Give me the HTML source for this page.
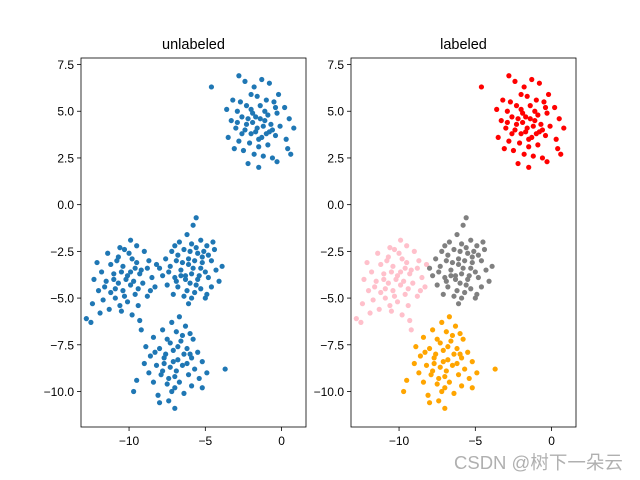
<!DOCTYPE html>
<html><head><meta charset="utf-8"><style>
body{margin:0;background:#fff;}
svg{display:block;font-family:"Liberation Sans","DejaVu Sans",sans-serif;}
</style></head><body>
<svg id="chart" width="640" height="480" viewBox="0 0 640 480">
<text x="454" y="469" font-size="18.5" fill="#b0b0b0" font-family="Liberation Sans, Noto Sans CJK SC, sans-serif">CSDN @树下一朵云</text>
</svg>
<script>
const clusterRed = [[-4.6,6.3],[-2.8,6.9],[-2.4,6.6],[-1.3,6.7],[-0.8,6.5],[-3.2,5.6],[-2.0,5.9],[-1.6,5.8],[-0.5,5.5],[0.2,5.2],[-3.6,5.1],[-2.9,5.0],[-2.3,5.3],[-1.1,5.0],[-0.3,4.9],[0.5,4.6],[-3.3,4.5],[-2.6,4.7],[-1.9,4.4],[-1.4,4.6],[-0.7,4.3],[-0.1,4.2],[0.8,4.1],[-3.0,4.1],[-2.4,4.0],[-1.7,3.9],[-1.0,3.8],[-0.4,3.7],[0.3,3.5],[-3.5,3.6],[-2.8,3.4],[-2.1,3.3],[-1.5,3.5],[-0.9,3.2],[0.4,3.0],[-2.5,2.9],[-1.8,2.7],[-1.2,2.6],[-0.6,2.5],[0.6,2.7],[-2.2,2.2],[-1.5,2.0],[-0.3,2.3],[-3.1,3.0],[-1.9,4.9],[-1.2,4.2],[-2.6,3.8],[-0.2,5.9],[-1.8,6.3],[-2.9,4.4],[-1.6,4.1],[-2.2,4.6],[-0.9,4.8],[-1.3,3.6],[-2.0,3.8],[-0.6,4.0],[-1.4,5.3],[-2.7,5.5],[-0.4,5.2],[-1.1,4.5],[-1.7,4.7],[-2.3,4.3],[-0.8,3.9],[-1.5,3.1],[-2.0,5.1],[-1.0,5.6]];
const clusterGrey = [[-5.6,-0.7],[-5.8,-1.1],[-6.2,-1.6],[-5.3,-1.9],[-6.7,-2.0],[-5.9,-2.1],[-4.9,-2.2],[-4.4,-2.4],[-7.2,-2.5],[-6.4,-2.4],[-5.5,-2.6],[-4.8,-2.7],[-7.6,-2.9],[-6.9,-3.0],[-6.1,-2.9],[-5.2,-3.1],[-4.6,-3.0],[-3.9,-3.3],[-8.0,-3.4],[-7.3,-3.3],[-6.6,-3.5],[-5.8,-3.4],[-5.0,-3.6],[-4.3,-3.5],[-7.8,-3.8],[-7.0,-3.9],[-6.3,-3.8],[-5.5,-4.0],[-4.8,-3.9],[-4.1,-4.1],[-7.5,-4.3],[-6.8,-4.4],[-6.0,-4.2],[-5.3,-4.5],[-4.6,-4.4],[-7.1,-4.8],[-6.4,-4.9],[-5.7,-4.7],[-5.0,-5.0],[-6.1,-5.3],[-6.8,-2.7],[-5.4,-3.8],[-6.5,-3.1],[-4.9,-4.8],[-7.4,-3.6],[-6.2,-4.6],[-5.6,-2.3],[-4.5,-2.0],[-7.0,-2.2],[-5.9,-5.0],[-6.0,-2.5],[-5.7,-3.0],[-6.3,-4.0],[-5.1,-2.5],[-6.6,-3.8],[-5.9,-3.7],[-6.1,-3.2],[-5.3,-3.4],[-5.6,-4.3],[-6.9,-4.1],[-5.2,-2.8]];
const clusterPink = [[-9.9,-1.9],[-9.5,-2.2],[-10.3,-2.4],[-9.0,-2.5],[-11.4,-2.6],[-10.7,-2.8],[-9.8,-2.9],[-8.7,-3.0],[-12.1,-3.1],[-11.2,-3.2],[-10.4,-3.3],[-9.6,-3.4],[-8.8,-3.4],[-8.2,-3.2],[-11.8,-3.6],[-11.0,-3.7],[-10.1,-3.8],[-9.3,-3.7],[-8.5,-3.9],[-12.3,-4.0],[-11.5,-4.1],[-10.7,-4.2],[-9.9,-4.3],[-9.1,-4.2],[-8.3,-4.4],[-12.0,-4.6],[-11.2,-4.7],[-10.4,-4.6],[-9.6,-4.8],[-8.8,-4.9],[-11.7,-5.1],[-10.9,-5.0],[-10.1,-5.2],[-9.4,-5.4],[-12.4,-5.3],[-11.3,-5.6],[-10.5,-5.7],[-12.8,-6.1],[-12.5,-6.3],[-9.3,-6.2],[-9.2,-6.7],[-10.8,-3.0],[-9.5,-3.1],[-11.6,-4.4],[-10.2,-4.0],[-8.6,-4.6],[-10.6,-5.4],[-9.8,-5.9],[-11.9,-5.8],[-10.0,-2.6],[-10.5,-3.6],[-9.7,-4.1],[-10.9,-4.5],[-9.2,-3.5],[-10.3,-4.9],[-11.0,-4.0],[-9.9,-3.6],[-10.6,-2.3],[-9.4,-4.5]];
const clusterOrange = [[-6.7,-6.0],[-7.2,-6.3],[-6.3,-6.5],[-7.8,-6.7],[-6.9,-6.8],[-6.0,-6.9],[-8.4,-7.1],[-7.5,-7.2],[-6.6,-7.3],[-5.8,-7.2],[-8.9,-7.6],[-8.0,-7.7],[-7.1,-7.8],[-6.2,-7.7],[-5.5,-7.9],[-8.6,-8.1],[-7.7,-8.2],[-6.8,-8.3],[-5.9,-8.2],[-5.2,-8.4],[-9.0,-8.5],[-8.2,-8.6],[-7.3,-8.7],[-6.5,-8.6],[-5.7,-8.8],[-3.7,-8.8],[-8.7,-9.0],[-7.9,-9.1],[-7.0,-9.2],[-6.1,-9.1],[-5.4,-9.3],[-8.4,-9.5],[-7.5,-9.6],[-6.7,-9.5],[-5.9,-9.7],[-9.5,-9.4],[-7.2,-10.0],[-6.4,-10.1],[-8.1,-10.2],[-9.7,-10.0],[-7.4,-10.5],[-7.0,-10.9],[-8.0,-10.6],[-6.5,-7.0],[-7.6,-8.0],[-6.0,-8.0],[-7.0,-9.8],[-4.9,-9.0],[-5.2,-9.8],[-8.3,-7.9],[-7.1,-8.4],[-6.4,-8.0],[-7.8,-8.9],[-6.8,-7.6],[-7.3,-7.4],[-6.9,-8.9],[-7.7,-8.5],[-6.2,-8.5],[-7.4,-9.3]];
const xTicks = [-10, -5, 0];
const yTicks = [7.5, 5.0, 2.5, 0.0, -2.5, -5.0, -7.5, -10.0];
const panelTitles = ["unlabeled", "labeled"];

const NS = "http://www.w3.org/2000/svg";
const svg = document.getElementById('chart');
const xMin = -13.15, xMax = 1.6, yMin = -11.9, yMax = 7.85;
const panels = [{left: 81, top: 58, w: 225, h: 369}, {left: 351, top: 58, w: 225, h: 369}];
function mk(tag, attrs){const e=document.createElementNS(NS,tag);for(const k in attrs)e.setAttribute(k,attrs[k]);svg.appendChild(e);return e;}

panels.forEach((p, pi) => {
  const sx = v => p.left + (v - xMin) / (xMax - xMin) * p.w;
  const sy = v => p.top + (yMax - v) / (yMax - yMin) * p.h;
  const frame = mk('rect', {x:p.left, y:p.top, width:p.w, height:p.h, fill:'none', stroke:'#000', 'stroke-width':0.8});
  
  
  const t = mk('text', {x:p.left + p.w/2, y:49, 'text-anchor':'middle', 'font-size':14.5, fill:'#000'});
  t.textContent = panelTitles[pi];
  
  
  xTicks.forEach(v => {
    const x = sx(v);
    const tk = mk('line', {x1:x, x2:x, y1:p.top+p.h, y2:p.top+p.h+4, stroke:'#000', 'stroke-width':0.8});
    
    
    const lb = mk('text', {x:x, y:p.top+p.h+18, 'text-anchor':'middle', 'font-size':12, fill:'#000'});
    lb.textContent = v < 0 ? '\u2212' + Math.abs(v) : String(v);
    
    
  });
  yTicks.forEach(v => {
    const y = sy(v);
    const tk = mk('line', {x1:p.left-4, x2:p.left, y1:y, y2:y, stroke:'#000', 'stroke-width':0.8});
    
    
    const lb = mk('text', {x:p.left-7, y:y+4.5, 'text-anchor':'end', 'font-size':12, fill:'#000'});
    lb.textContent = (v < 0 ? '\u2212' : '') + Math.abs(v).toFixed(1);
    
    
  });
  const groups = [[clusterPink,'pink'],[clusterOrange,'orange'],[clusterRed,'red'],[clusterGrey,'grey']];
  groups.forEach(([pts, col]) => {
    const fill = pi === 0 ? '#1f77b4' : (col === 'grey' ? '#808080' : col === 'orange' ? '#ffa500' : col === 'pink' ? '#ffc0cb' : '#ff0000');
    pts.forEach(pt => {
      const c = mk('circle', {cx:sx(pt[0]), cy:sy(pt[1]), r:2.6, fill:fill});
      
      
    });
  });
});
svg.appendChild(svg.querySelector('text'));
</script>
</body></html>
